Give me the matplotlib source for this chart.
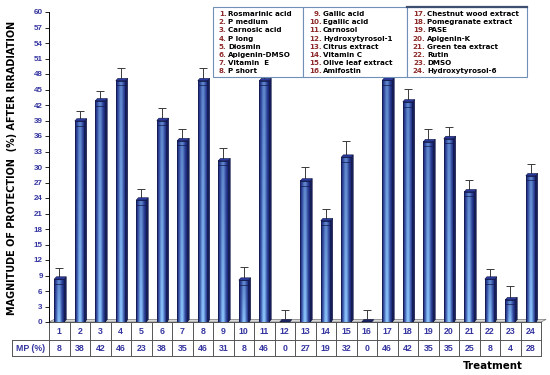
import numpy as np
import matplotlib
matplotlib.use("Agg")
import matplotlib.pyplot as plt
from matplotlib.patches import Polygon, Rectangle
from matplotlib.transforms import blended_transform_factory

# data
treatments = list(range(1, 25))
mp_pct = [8, 38, 42, 46, 23, 38, 35, 46, 31, 8, 46, 0,
          27, 19, 32, 0, 46, 42, 35, 35, 25, 8, 4, 28]
bar_height = [8.3, 38.9, 42.8, 46.7, 23.6, 39.0, 35.1, 46.7, 31.2, 8.1, 46.7, 0,
              27.3, 19.6, 31.9, 0, 46.8, 42.6, 34.9, 35.5, 25.2, 8.3, 4.3, 28.3]
bar_err = [2.0, 1.8, 1.6, 2.3, 1.9, 2.2, 2.1, 2.3, 2.2, 2.3, 1.6, 2.1,
           2.4, 2.1, 3.0, 2.1, 1.6, 2.3, 2.3, 2.1, 2.1, 1.8, 2.4, 2.1]
names = ["Rosmarinic acid", "P medium", "Carnosic acid", "P long", "Diosmin",
         "Apigenin-DMSO", "Vitamin  E", "P short",
         "Gallic acid", "Egallic acid", "Carnosol", "Hydroxytyrosol-1",
         "Citrus extract", "Vitamin C", "Olive leaf extract", "Amifostin",
         "Chestnut wood extract", "Pomegranate extract", "PASE", "Apigenin-K",
         "Green tea extract", "Rutin", "DMSO", "Hydroxytyrosol-6"]
yticks = list(range(0, 61, 3))

W, H = 550, 375
BLUE_TXT = "#3535a0"
NUM_RED = "#8e2a2a"


def fx(px):
    return px / W


def fy(py):
    return 1 - py / H


fig = plt.figure(figsize=(W / 100, H / 100), dpi=100)
ax = fig.add_axes([fx(49), fy(322), (541 - 49) / W, (322 - 12) / H])

# gradient for the bar front faces
nx, ny = 40, 60
t = np.linspace(0, 1, nx)
v = np.linspace(0, 1, ny)[:, None]
prof = np.exp(-((t - 0.5) / 0.28) ** 2)[None, :]
light = np.array([0.55, 0.78, 1.00])
dark = np.array([0.10, 0.15, 0.50])
mix = prof * (1.0 - 0.40 * v)
grad = dark[None, None, :] + (light - dark)[None, None, :] * mix[:, :, None]

w = 0.48
d = 0.10
dy = 0.45
for x, h in zip(treatments, bar_height):
    if h <= 0:
        ax.add_patch(Polygon([(x - w / 2, 0), (x + w / 2, 0), (x + w / 2 + d, dy),
                              (x - w / 2 + d, dy)], closed=True,
                             fc="#1b2466", ec="#10163f", lw=0.5, zorder=3))
        continue
    ax.imshow(grad, extent=(x - w / 2, x + w / 2, 0, h), origin="lower",
              aspect="auto", zorder=2, interpolation="bilinear")
    ax.add_patch(Rectangle((x - w / 2, 0), w, h, fill=False, ec="#141a4d",
                           lw=0.6, zorder=3))
    # side face
    ax.add_patch(Polygon([(x + w / 2, 0), (x + w / 2 + d, dy), (x + w / 2 + d, h + dy),
                          (x + w / 2, h)], closed=True, fc="#161e5c", ec="#10163f",
                         lw=0.4, zorder=3))
    # top face
    ax.add_patch(Polygon([(x - w / 2, h), (x + w / 2, h), (x + w / 2 + d, h + dy),
                          (x - w / 2 + d, h + dy)], closed=True, fc="#2b3aa0",
                         ec="#10163f", lw=0.4, zorder=3))
    if h > 3:
        ax.plot([x - w / 2, x + w / 2], [h - 0.9, h - 0.9], color="#141a4d",
                lw=0.5, zorder=3)

# error bars (upper only)
for x, h, e in zip(treatments, bar_height, bar_err):
    ax.errorbar(x, h + dy / 2, yerr=[[0], [e]], fmt="none", ecolor="#3a3a3a",
                elinewidth=0.7, capsize=2.6, capthick=0.7, zorder=1)

# floor
ax.add_patch(Polygon([(0.5, 0), (24.5, 0), (24.75, 0.5), (0.75, 0.5)], closed=True,
                     fc="#d9d9d9", ec="#777777", lw=0.5, zorder=1, clip_on=False))

ax.set_xlim(0.5, 24.5)
ax.set_ylim(0, 60)
ax.set_yticks(yticks)
ax.set_yticklabels([str(v) for v in yticks], color=BLUE_TXT, fontsize=5.8,
                   fontweight="bold", family="Liberation Sans")
ax.tick_params(axis="y", length=3, width=0.6, pad=1.5)
ax.set_xticks([])
for s in ["top", "right", "bottom"]:
    ax.spines[s].set_visible(False)
ax.spines["left"].set_linewidth(0.7)
ax.patch.set_alpha(0)

fig.text(fx(12), fy(168), "MAGNITUDE OF PROTECTION  (%) AFTER IRRADIATION",
         rotation=90, ha="center", va="center", fontsize=6.9, fontweight="bold")

# table under the bars
tr = blended_transform_factory(ax.transData, fig.transFigure)
lc = "#555555"
y_top, y_mid, y_bot = fy(322), fy(340), fy(356)
ax.plot([0.5, 24.5], [y_top, y_top], transform=tr, color=lc, lw=0.7, clip_on=False)
ax.plot([0.5, 24.5], [y_bot, y_bot], transform=tr, color=lc, lw=0.7, clip_on=False)
fig.add_artist(plt.Line2D([fx(12), fx(541)], [y_mid, y_mid], color=lc, lw=0.7))
fig.add_artist(plt.Line2D([fx(12), fx(12)], [y_mid, y_bot], color=lc, lw=0.7))
fig.add_artist(plt.Line2D([fx(12), fx(49)], [y_bot, y_bot], color=lc, lw=0.7))
for b in np.arange(0.5, 25, 1.0):
    ax.plot([b, b], [y_top, y_bot], transform=tr, color=lc, lw=0.7, clip_on=False)
for x, mp in zip(treatments, mp_pct):
    ax.text(x, fy(331), str(x), transform=tr, ha="center", va="center",
            color=BLUE_TXT, fontsize=6.3, fontweight="bold", family="Liberation Sans")
    ax.text(x, fy(348.5), str(mp), transform=tr, ha="center", va="center",
            color=BLUE_TXT, fontsize=6.3, fontweight="bold", family="Liberation Sans")
fig.text(fx(30.5), fy(348.5), "MP (%)", ha="center", va="center", color=BLUE_TXT,
         fontsize=6.3, fontweight="bold", family="Liberation Sans")
fig.text(fx(523), fy(366), "Treatment", ha="right", va="center", fontsize=7.4,
         fontweight="bold")

# legend boxes
boxes = [(213, 303, 219, 228), (303, 407, 313, 323), (407, 527, 412, 427)]
for k, (x0, x1, xn, xt) in enumerate(boxes):
    fig.add_artist(Rectangle((fx(x0), fy(77)), (x1 - x0) / W, 70 / H,
                             transform=fig.transFigure, fill=True, fc="white",
                             ec="#7090b8", lw=0.8, zorder=5))
    for j in range(8):
        i = k * 8 + j
        yy = fy(14.3 + j * 8.1)
        fig.text(fx(xt - 1.5), yy, f"{i + 1}.", ha="right", va="center",
                 color=NUM_RED, fontsize=5.1, fontweight="bold", zorder=6)
        fig.text(fx(xt), yy, names[i], ha="left", va="center", color="black",
                 fontsize=5.1, fontweight="bold", zorder=6)
fig.add_artist(plt.Line2D([fx(407), fx(527)], [fy(7), fy(7)], color="#3d4f6e",
                          lw=1.6, zorder=7))

fig.savefig("out.png", dpi=100)
